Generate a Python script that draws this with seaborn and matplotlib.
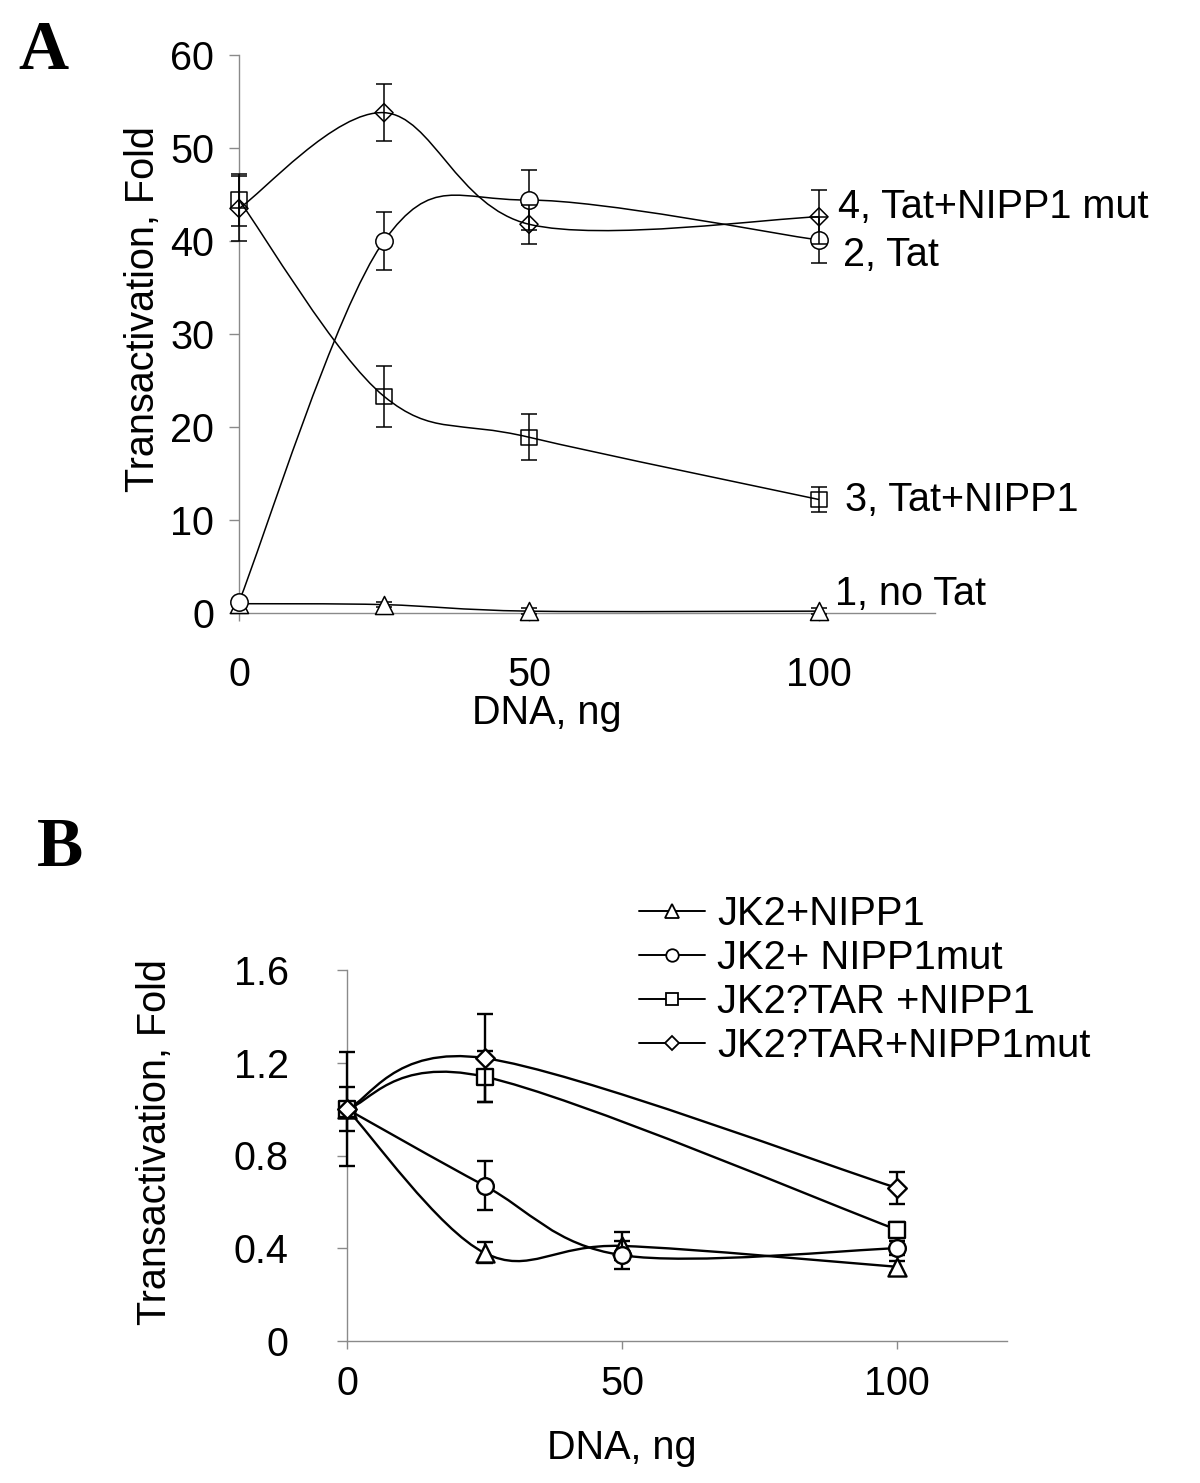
import numpy as np
import matplotlib
matplotlib.use("Agg")
import matplotlib.pyplot as plt
from matplotlib.path import Path
from matplotlib.patches import PathPatch
from matplotlib.lines import Line2D
import seaborn as sns

# ---- panel A data ----
dna_a = [0, 25, 50, 100]
no_tat = [1.0, 0.9, 0.2, 0.2]
no_tat_err = [0.3, 0.3, 0.3, 0.3]
tat = [1.2, 40.0, 44.4, 40.1]
tat_err = [0.3, 3.1, 3.2, 2.5]
tat_nipp1 = [44.4, 23.3, 18.9, 12.2]
tat_nipp1_err = [2.8, 3.3, 2.5, 1.3]
tat_nipp1mut = [43.5, 53.8, 41.8, 42.6]
tat_nipp1mut_err = [3.5, 3.1, 2.1, 2.9]
labels_a = ["1, no Tat", "2, Tat", "3, Tat+NIPP1", "4, Tat+NIPP1 mut"]

# ---- panel B data ----
dna_b = [0, 25, 50, 100]
dna_b_tar = [0, 25, 100]
jk2_nipp1 = [1.0, 0.38, 0.41, 0.32]
jk2_nipp1_err = [0.095, 0.045, 0.06, 0.025]
jk2_nipp1mut = [1.0, 0.67, 0.37, 0.40]
jk2_nipp1mut_err = [0.245, 0.105, 0.06, 0.03]
tar_nipp1 = [1.0, 1.14, 0.48]
tar_nipp1_err = [0.0, 0.11, 0.035]
tar_nipp1mut = [1.0, 1.22, 0.66]
tar_nipp1mut_err = [0.0, 0.19, 0.07]
labels_b = ["JK2+NIPP1", "JK2+ NIPP1mut", "JK2?TAR +NIPP1", "JK2?TAR+NIPP1mut"]

sns.set_style("white")
plt.rcParams["font.family"] = ["Liberation Sans", "DejaVu Sans"]
plt.rcParams["text.color"] = "black"
plt.rcParams["xtick.labelcolor"] = "black"
plt.rcParams["ytick.labelcolor"] = "black"

FS = 28.5
W, H = 1200, 1483
fig = plt.figure(figsize=(W / 100, H / 100), dpi=100)


def smooth_path(x, y):
    # excel style smoothed line: bezier segments through the data points
    pts = np.column_stack([x, y]).astype(float)
    n = len(pts)
    verts = [pts[0]]
    codes = [Path.MOVETO]
    for i in range(n - 1):
        p0 = pts[max(i - 1, 0)]
        p1 = pts[i]
        p2 = pts[i + 1]
        p3 = pts[min(i + 2, n - 1)]
        verts += [p1 + (p2 - p0) / 6, p2 - (p3 - p1) / 6, p2]
        codes += [Path.CURVE4] * 3
    return Path(verts, codes)


def draw_series(ax, x, y, err, marker, size, filled, lw, z):
    ax.add_patch(PathPatch(smooth_path(x, y), facecolor="none", edgecolor="black",
                           lw=lw, zorder=2, clip_on=False))
    eb = ax.errorbar(x, y, yerr=err, fmt="none", ecolor="black", elinewidth=lw,
                     capsize=6, capthick=lw, zorder=z)
    for art in list(eb.lines[1]) + list(eb.lines[2]):
        art.set_clip_on(False)
    sns.scatterplot(x=x, y=y, marker=marker, s=size ** 2, ax=ax,
                    facecolor="white" if filled else "none", edgecolor="black",
                    linewidth=lw, zorder=z + 0.05, clip_on=False, legend=False)


def style_axes(ax, ylim, yticks, ypad, xpad, fs):
    ax.set_xlim(0, 120)
    ax.set_ylim(*ylim)
    ax.set_xticks([0, 50, 100])
    ax.set_yticks(yticks)
    sns.despine(ax=ax)
    for s in ["left", "bottom"]:
        ax.spines[s].set_color("#8a8a8a")
        ax.spines[s].set_linewidth(1)
    ax.tick_params(axis="y", direction="out", length=7, width=1, color="#8a8a8a",
                   pad=ypad, labelsize=fs, labelcolor="black", left=True)
    ax.tick_params(axis="x", direction="out", length=6, width=1, color="#8a8a8a",
                   pad=xpad, labelsize=fs, labelcolor="black", bottom=True)
    ax.set_xlabel("")
    ax.set_ylabel("")


# ---- panel A ----
axA = fig.add_axes([239 / W, 1 - 613 / H, 696 / W, 558 / H])
draw_series(axA, dna_a, no_tat, no_tat_err, "^", 13, True, 1.1, 3.0)
draw_series(axA, dna_a, tat, tat_err, "o", 12.5, True, 1.1, 3.1)
draw_series(axA, dna_a, tat_nipp1, tat_nipp1_err, "s", 11, False, 1.1, 3.2)
draw_series(axA, dna_a, tat_nipp1mut, tat_nipp1mut_err, "D", 9.2, False, 1.1, 3.3)
style_axes(axA, (0, 60), [0, 10, 20, 30, 40, 50, 60], 11, 25, FS)

label_pos_a = [(102.8, 2.0), (104.1, 38.5), (104.5, 12.2), (103.3, 43.7)]
for (lx, ly), txt in zip(label_pos_a, labels_a):
    axA.text(lx, ly, txt, fontsize=FS, ha="left", va="center")

fig.text(143 / W, 1 - 309 / H, "Transactivation, Fold", rotation=90,
         fontsize=FS, ha="center", va="center")
fig.text(547 / W, 1 - 713 / H, "DNA, ng", fontsize=FS, ha="center", va="center")
fig.text(18 / W, 1 - 69 / H, "A", fontsize=50, fontweight="bold",
         family=["Liberation Serif", "DejaVu Serif"], ha="left", va="baseline")

# ---- panel B ----
axB = fig.add_axes([347 / W, 1 - 1341 / H, 660 / W, 371 / H])
draw_series(axB, dna_b, jk2_nipp1, jk2_nipp1_err, "^", 13, True, 1.7, 3.0)
draw_series(axB, dna_b, jk2_nipp1mut, jk2_nipp1mut_err, "o", 12, True, 1.7, 3.1)
draw_series(axB, dna_b_tar, tar_nipp1, tar_nipp1_err, "s", 12, True, 1.7, 3.2)
draw_series(axB, dna_b_tar, tar_nipp1mut, tar_nipp1mut_err, "D", 9.5, True, 1.7, 3.3)
style_axes(axB, (0, 1.6), [0, 0.4, 0.8, 1.2, 1.6], 35, 11, FS)
axB.set_yticklabels(["0", "0.4", "0.8", "1.2", "1.6"])

handles = [Line2D([], [], color="black", lw=1.4, marker=m, markersize=ms,
                  markerfacecolor="white", markeredgecolor="black", markeredgewidth=1.3)
           for m, ms in zip(["^", "o", "s", "D"], [10, 9, 9, 7.5])]
fig.legend(handles, labels_b, loc="upper left", bbox_to_anchor=(639 / W, 1 - 895 / H),
           frameon=False, fontsize=FS + 0.3, handlelength=1.65, handletextpad=0.3,
           labelspacing=0.15, borderpad=0, borderaxespad=0)

fig.text(155 / W, 1 - 1142 / H, "Transactivation, Fold", rotation=90,
         fontsize=FS, ha="center", va="center")
fig.text(622 / W, 1 - 1448 / H, "DNA, ng", fontsize=FS, ha="center", va="center")
fig.text(37 / W, 1 - 866 / H, "B", fontsize=50, fontweight="bold",
         family=["Liberation Serif", "DejaVu Serif"], ha="left", va="baseline")

fig.savefig("out.png", dpi=100)
